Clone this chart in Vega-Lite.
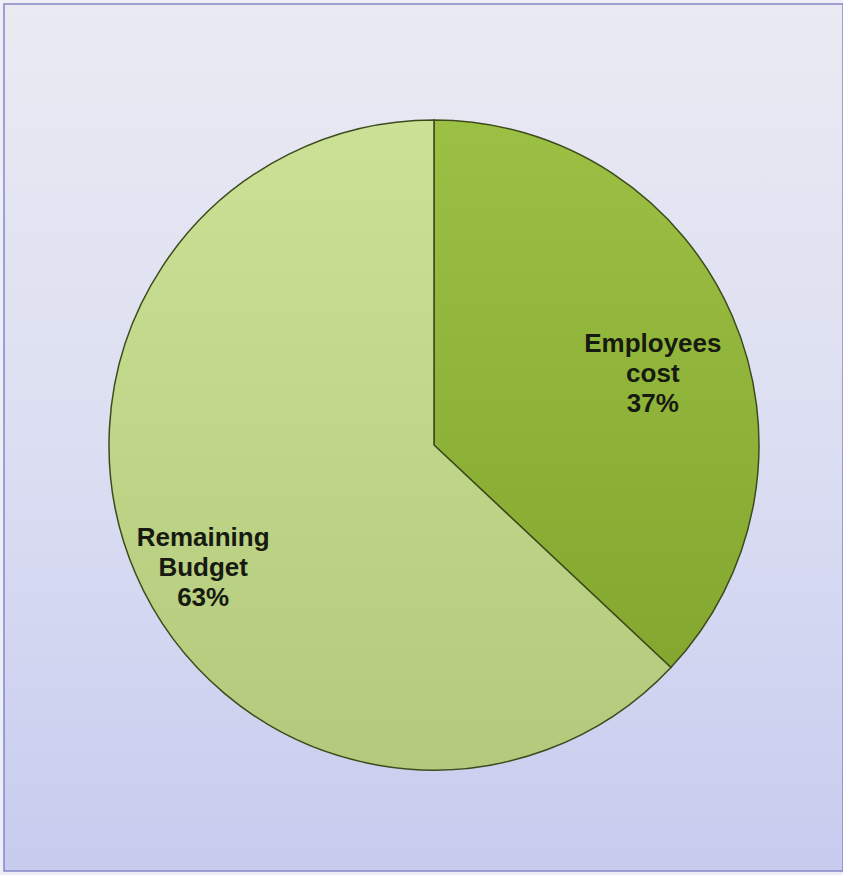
{
  "$schema": "https://vega.github.io/schema/vega-lite/v6.json",
  "width": 843,
  "height": 875,
  "autosize": {"type": "fit", "contains": "padding"},
  "padding": {"left": 4, "top": 4, "right": 0, "bottom": 4},
  "background": "#eeeef6",
  "view": {
    "stroke": "#8587c6",
    "strokeWidth": 1.5,
    "fill": {
      "gradient": "linear",
      "x1": 0, "y1": 0, "x2": 0, "y2": 1,
      "stops": [
        {"offset": 0, "color": "#eaeaf2"},
        {"offset": 0.5, "color": "#dcdff2"},
        {"offset": 1, "color": "#c7ccef"}
      ]
    }
  },
  "data": {
    "values": [
      {"category": "Employees cost", "value": 37, "label": ["Employees", "cost", "37%"]},
      {"category": "Remaining Budget", "value": 63, "label": ["Remaining", "Budget", "63%"]}
    ]
  },
  "encoding": {
    "theta": {"field": "value", "type": "quantitative", "stack": true},
    "detail": {"field": "category", "type": "nominal"}
  },
  "layer": [
    {
      "mark": {
        "type": "arc",
        "outerRadius": 325,
        "x": {"expr": "width/2 + 10.5"},
        "y": {"expr": "height/2 + 7.5"},
        "stroke": "#3d4a1c",
        "strokeWidth": 1.5
      },
      "encoding": {
        "fill": {
          "condition": {
            "test": "datum.category === 'Employees cost'",
            "value": {
              "gradient": "linear",
              "x1": 0, "y1": 0, "x2": 0, "y2": 1,
              "stops": [
                {"offset": 0, "color": "#9cc044"},
                {"offset": 1, "color": "#84a82f"}
              ]
            }
          },
          "value": {
            "gradient": "linear",
            "x1": 0, "y1": 0, "x2": 0, "y2": 1,
            "stops": [
              {"offset": 0, "color": "#cbe296"},
              {"offset": 1, "color": "#b3c97b"}
            ]
          }
        }
      }
    },
    {
      "mark": {
        "type": "text",
        "radius": 245,
        "x": {"expr": "width/2 + 10.5"},
        "y": {"expr": "height/2 + 7.5"},
        "dx": -6,
        "dy": -4,
        "font": "Liberation Sans",
        "fontSize": 26,
        "fontWeight": "bold",
        "lineHeight": 30,
        "align": "center",
        "baseline": "middle",
        "color": "#161a10"
      },
      "encoding": {
        "text": {"field": "label"}
      }
    }
  ]
}
